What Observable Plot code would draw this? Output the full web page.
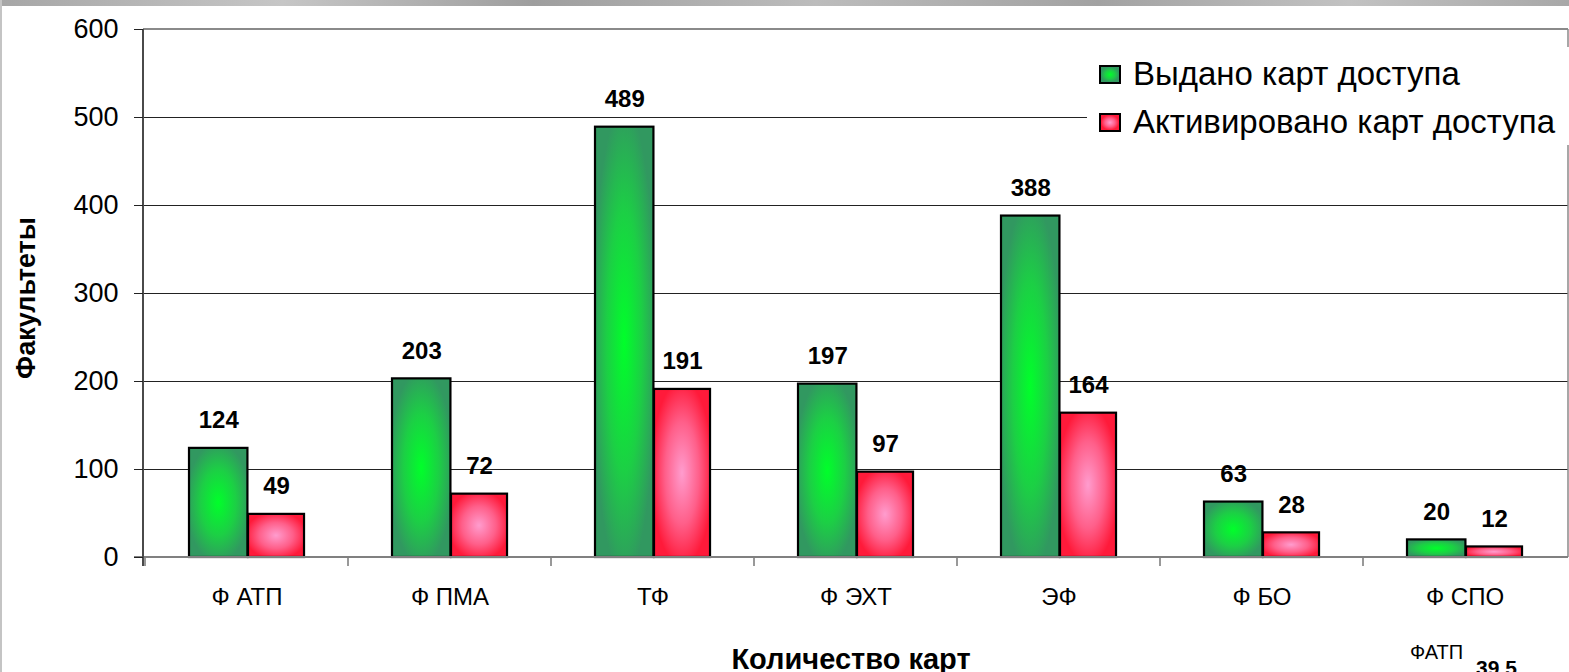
<!DOCTYPE html>
<html><head><meta charset="utf-8">
<script src="https://cdn.jsdelivr.net/npm/d3@7"></script>
<script src="https://cdn.jsdelivr.net/npm/@observablehq/plot@0.6"></script>
<style>
html,body{margin:0;padding:0;background:#fff;overflow:hidden;width:1569px;height:672px;}
body{position:relative;font-family:"Liberation Sans",Arial,sans-serif;color:#000;}
#chart{position:absolute;left:0;top:0;}
.topband{position:absolute;left:0;top:0;width:1569px;height:6px;background:linear-gradient(90deg,#a6a6a6,#c6c6c6 18%,#9e9e9e 34%,#bcbcbc 52%,#a2a2a2 70%,#c2c2c2 86%,#a8a8a8);}
.leftedge{position:absolute;left:0;top:0;width:2px;height:672px;background:#c4c4c4;}
.legend{position:absolute;left:1087px;top:47px;width:482px;height:98px;background:#fff;}
.legend .item{position:absolute;left:12px;height:40px;display:flex;align-items:center;font-size:33px;line-height:40px;white-space:nowrap;}
.legend .sw{width:22px;height:19px;box-sizing:border-box;border:2.5px solid #000;margin-right:12px;}
.ytitle{position:absolute;left:26px;top:298px;transform:translate(-50%,-50%) rotate(-90deg);font-weight:bold;font-size:27px;white-space:nowrap;}
.xtitle{position:absolute;left:851px;top:659px;transform:translate(-50%,-50%);font-weight:bold;font-size:29px;white-space:nowrap;}
.note1{position:absolute;left:1410px;top:641px;font-size:20px;white-space:nowrap;}
.note2{position:absolute;left:1476px;top:656px;font-size:21px;font-weight:bold;white-space:nowrap;}
</style>
</head><body>
<div id="chart"></div>
<div class="topband"></div>
<div class="leftedge"></div>
<div class="legend" id="legend"></div>
<div class="ytitle">Факультеты</div>
<div class="xtitle">Количество карт</div>
<div class="note1">ФАТП</div>
<div class="note2">39,5</div>
<script>
const categories = ["Ф АТП", "Ф ПМА", "ТФ", "Ф ЭХТ", "ЭФ", "Ф БО", "Ф СПО"];
const issued = [124, 203, 489, 197, 388, 63, 20];
const activated = [49, 72, 191, 97, 164, 28, 12];
const seriesNames = ["Выдано карт доступа", "Активировано карт доступа"];
const yTicks = [0, 100, 200, 300, 400, 500, 600];

const rows = categories.map((c, i) => ({cat: c, issued: issued[i], activated: activated[i]}));

const defs = () => {
  const d = d3.create("svg:defs");
  const g1 = d.append("radialGradient").attr("id", "gGreen").attr("cx", 0.5).attr("cy", 0.5).attr("r", 0.55);
  g1.append("stop").attr("offset", "0%").attr("stop-color", "#00ff2a");
  g1.append("stop").attr("offset", "55%").attr("stop-color", "#1ccf45");
  g1.append("stop").attr("offset", "100%").attr("stop-color", "#319860");
  const g2 = d.append("radialGradient").attr("id", "gRed").attr("cx", 0.5).attr("cy", 0.5).attr("r", 0.55);
  g2.append("stop").attr("offset", "0%").attr("stop-color", "#ff9cce");
  g2.append("stop").attr("offset", "55%").attr("stop-color", "#ff5f8a");
  g2.append("stop").attr("offset", "100%").attr("stop-color", "#ff1a3a");
  return d.node();
};

const frameLines = (index, scales, values, dim) => {
  const g = d3.create("svg:g");
  const x0 = dim.marginLeft, x1 = dim.width - dim.marginRight;
  const y0 = dim.marginTop, y1 = dim.height - dim.marginBottom;
  g.append("line").attr("x1", x0).attr("x2", x1).attr("y1", y0).attr("y2", y0).attr("stroke", "#8a8a8a").attr("stroke-width", 2);
  g.append("line").attr("x1", x1).attr("x2", x1).attr("y1", y0).attr("y2", y1).attr("stroke", "#8a8a8a").attr("stroke-width", 1.5);
  categories.forEach(c => {
    const bx = scales.x(c);
    g.append("line").attr("x1", bx).attr("x2", bx).attr("y1", y1).attr("y2", y1 + 9).attr("stroke", "#555").attr("stroke-width", 1.2);
  });
  return g.node();
};

const axisLines = (index, scales, values, dim) => {
  const g = d3.create("svg:g");
  const x0 = dim.marginLeft, x1 = dim.width - dim.marginRight;
  const y0 = dim.marginTop, y1 = dim.height - dim.marginBottom;
  g.append("line").attr("x1", x0 - 9).attr("x2", x1).attr("y1", y1).attr("y2", y1).attr("stroke", "#808080").attr("stroke-width", 2);
  g.append("line").attr("x1", x0).attr("x2", x0).attr("y1", y0).attr("y2", y1 + 9).attr("stroke", "#4a4a4a").attr("stroke-width", 2);
  return g.node();
};

const band = (1569 - 1 - 143) / categories.length;
const gL = 44, gW = 59, rL = 103, rW = 56.6;

const chart = Plot.plot({
  width: 1569,
  height: 672,
  marginLeft: 143,
  marginRight: 1,
  marginTop: 29,
  marginBottom: 115,
  style: {fontFamily: '"Liberation Sans", Arial, sans-serif', background: "transparent", color: "#000", overflow: "visible"},
  x: {domain: categories, padding: 0, axis: null},
  y: {domain: [0, 600], axis: null},
  marks: [
    defs,
    Plot.gridY(yTicks.filter(v => v > 0 && v < 600), {stroke: "#222", strokeOpacity: 1, strokeWidth: 1}),
    frameLines,
    Plot.barY(rows, {x: "cat", y: "issued", fill: "url(#gGreen)", stroke: "#000", strokeWidth: 2.2, insetLeft: gL, insetRight: band - gL - gW}),
    Plot.barY(rows, {x: "cat", y: "activated", fill: "url(#gRed)", stroke: "#000", strokeWidth: 2.2, insetLeft: rL, insetRight: band - rL - rW}),
    axisLines,
    Plot.text(rows, {x: "cat", y: "issued", text: d => String(d.issued), dx: gL + gW / 2 - band / 2, dy: -28, fontSize: 24, fontWeight: "bold", lineAnchor: "middle"}),
    Plot.text(rows, {x: "cat", y: "activated", text: d => String(d.activated), dx: rL + rW / 2 - band / 2, dy: -28, fontSize: 24, fontWeight: "bold", lineAnchor: "middle"}),
    Plot.axisY({ticks: yTicks, tickSize: 9, tickPadding: 16, fontSize: 27, stroke: "#222", label: null, tickFormat: d => String(d)}),
    Plot.axisX({tickSize: 0, tickPadding: 30, fontSize: 24, label: null})
  ]
});
document.getElementById("chart").appendChild(chart);

const legend = document.getElementById("legend");
const swatchBg = [
  "radial-gradient(closest-side, #00ff2a, #1ccf45 55%, #319860)",
  "radial-gradient(closest-side, #ff9cce, #ff5f8a 55%, #ff1a3a)"
];
seriesNames.forEach((name, i) => {
  const it = document.createElement("div");
  it.className = "item";
  it.style.top = (7 + i * 48) + "px";
  const sw = document.createElement("div");
  sw.className = "sw";
  sw.style.background = swatchBg[i];
  const t = document.createElement("span");
  t.textContent = name;
  it.appendChild(sw);
  it.appendChild(t);
  legend.appendChild(it);
});
</script>
</body></html>
